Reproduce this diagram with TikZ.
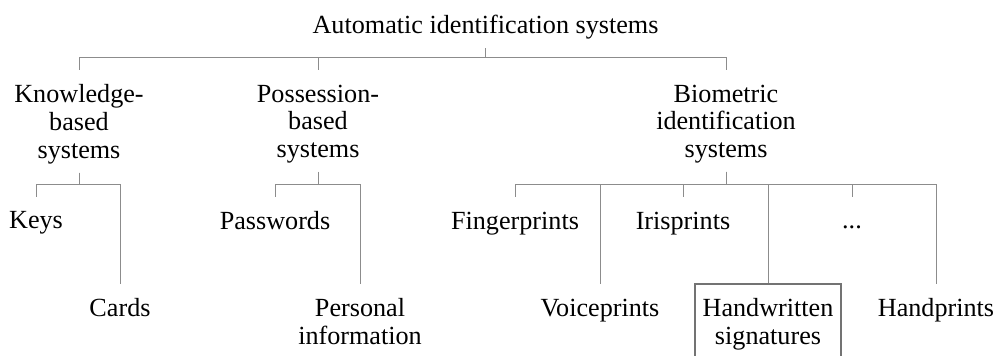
\documentclass[tikz,border=0pt]{standalone}
\usepackage{fontspec}
\setmainfont{Liberation Serif}

\begin{document}
\begin{tikzpicture}[x=0.5pt,y=-0.5pt,
every node/.style={font=\fontsize{13.08}{13.8}\selectfont,inner sep=0pt,align=center,anchor=north},
link/.style={draw=black!45,line width=0.5pt,shorten <=4.2pt},
leaf/.style={shorten >=7.2pt},
sigbox/.style={draw=black!55,line width=1pt,inner xsep=4pt,inner ysep=7.2pt}]
\useasboundingbox (0,0) rectangle (995,356);

\node (auto) at (485.5,15) {Automatic identification systems};

\node (know) at (79,84.4) {Knowledge-\\based\\systems};
\node (poss) at (318,84.4) {Possession-\\based\\systems};
\node (bio) at (726,84.4) {Biometric\\identification\\systems};

\node (keys) at (36,211.4) {Keys};
\node (cards) at (120,298.4) {Cards};
\node (pwd) at (275,211.4) {Passwords};
\node (pers) at (360,298.4) {Personal\\information};
\node (finger) at (515,211.4) {Fingerprints};
\node (iris) at (683,211.4) {Irisprints};
\node (more) at (852,211.4) {\vphantom{K}...};
\node (voice) at (600,298.4) {Voiceprints};
\node (hand) at (936,298.4) {Handprints};
\node [sigbox] (sig) at (768,283) {Handwritten\\signatures};

\coordinate (bar0) at (0,58);
\coordinate (bar1) at (0,184.5);

\foreach \c in {know,poss,bio}
  \draw [link,leaf] (auto.south) -- (auto.south |- bar0) -| (\c.north);
\foreach \c in {keys,cards}
  \draw [link,leaf] (know.south) -- (know.south |- bar1) -| (\c.north);
\foreach \c in {pwd,pers}
  \draw [link,leaf] (poss.south) -- (poss.south |- bar1) -| (\c.north);
\foreach \c in {finger,iris,more,voice,hand}
  \draw [link,leaf] (bio.south) -- (bio.south |- bar1) -| (\c.north);
\draw [link] (bio.south) -- (bio.south |- bar1) -| (sig.north);
\end{tikzpicture}
\end{document}
